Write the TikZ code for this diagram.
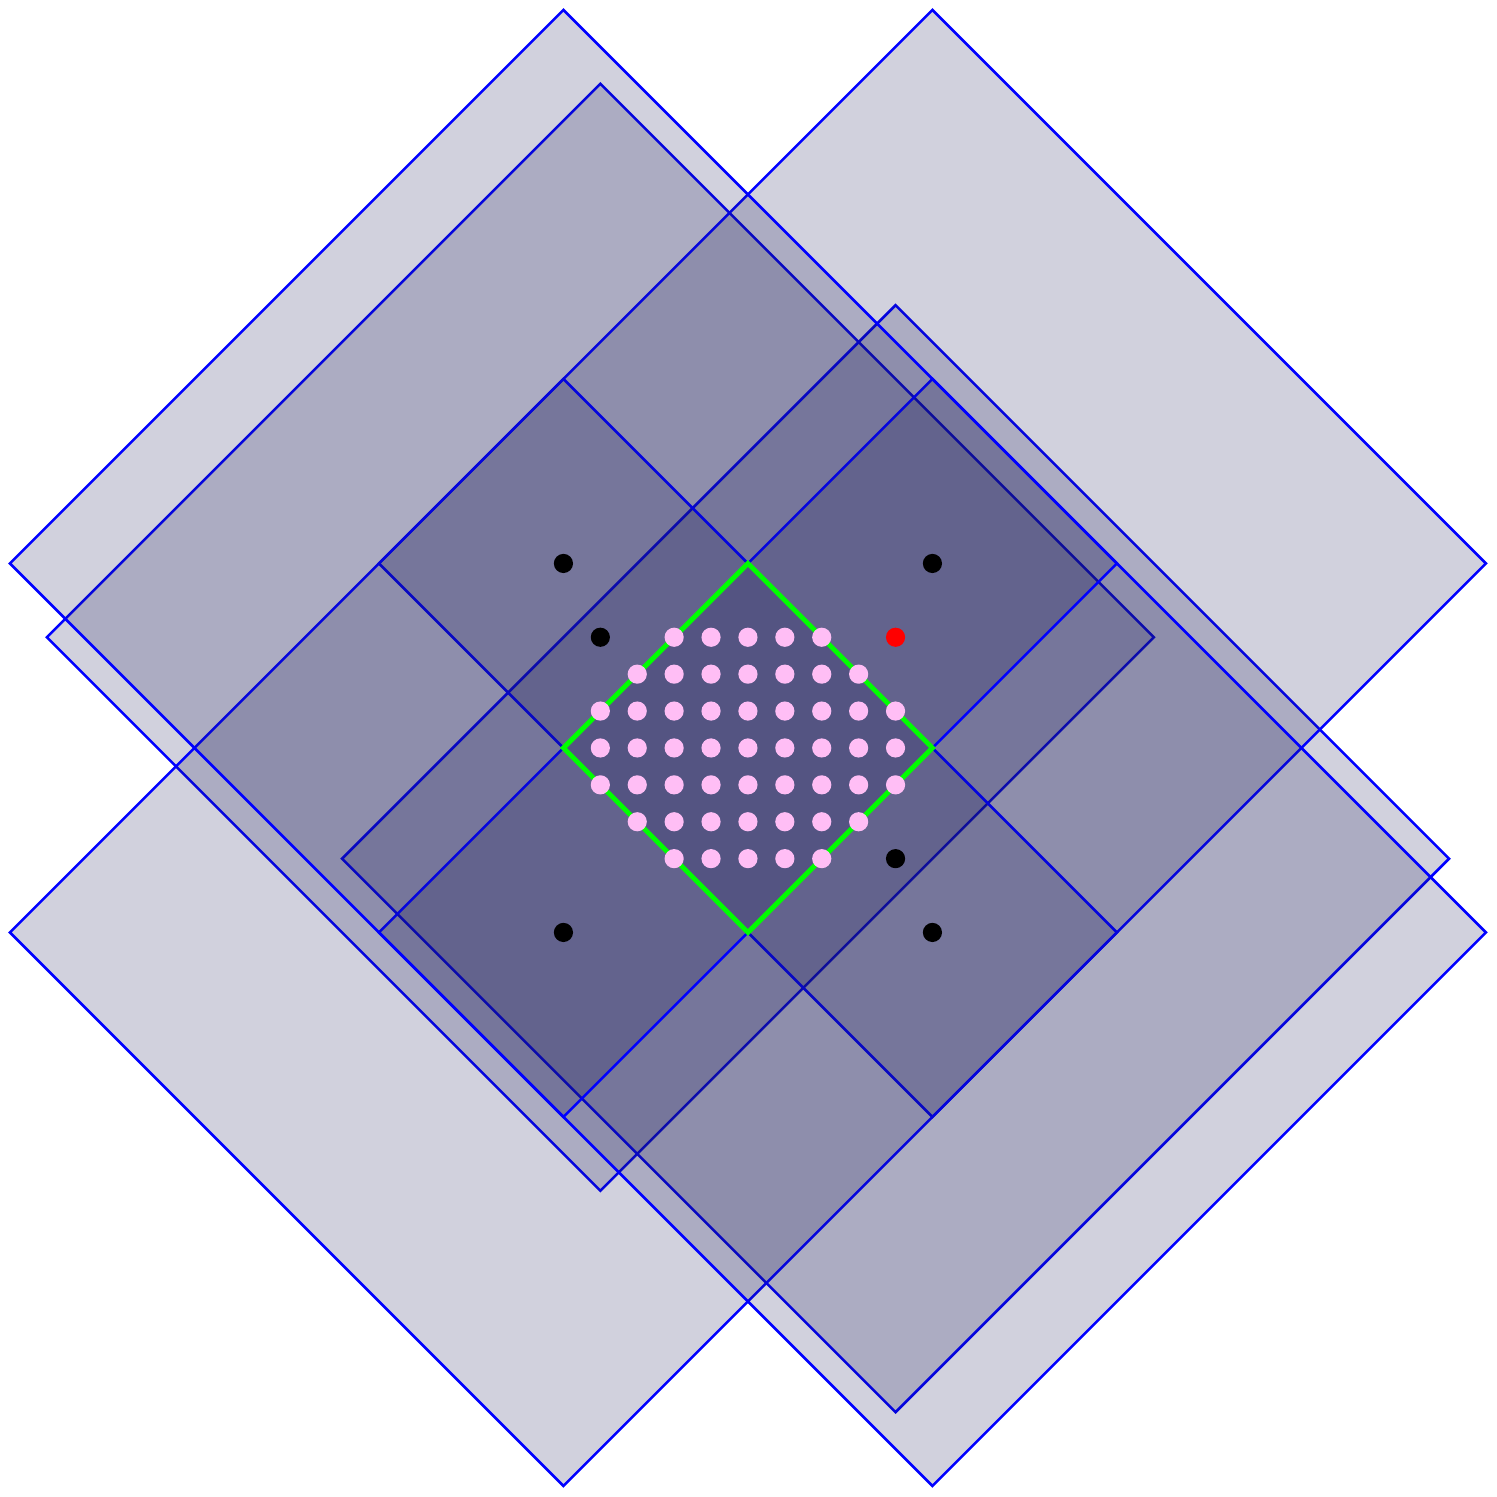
\documentclass[tikz,border=0pt]{standalone}
\definecolor{fillc}{RGB}{24,24,86}
\definecolor{pinkc}{RGB}{255,190,245}
\tikzset{
  dia/.style={draw=blue, line width=2.0pt, fill=fillc, fill opacity=0.2, line join=miter},
  gdia/.style={draw=green, line width=3.8pt, line join=miter},
  bdot/.style={circle, fill=black, inner sep=0pt, minimum size=0.52cm},
  rdot/.style={circle, fill=red, inner sep=0pt, minimum size=0.52cm},
  pdot/.style={circle, fill=pinkc, inner sep=0pt, minimum size=0.52cm}
}
\newcommand\mydiam[2]{\path[dia] (#1,#2) ++(15,0) -- ++(-15,15) -- ++(-15,-15) -- ++(15,-15) -- cycle;}
\begin{document}
\begin{tikzpicture}
\useasboundingbox (-20.27,-20.30) rectangle (20.30,20.27);
% the six diamonds of radius 15
\mydiam{-4}{3}
\mydiam{4}{-3}
\mydiam{5}{5}
\mydiam{-5}{-5}
\mydiam{5}{-5}
\mydiam{-5}{5}
% green diamond
\coordinate (gt) at (0,5);
\coordinate (gr) at (5,0);
\coordinate (gb) at (0,-5);
\coordinate (gl) at (-5,0);
\draw[gdia] (gt) -- (gr) -- (gb) -- (gl) -- cycle;
% pink lattice points
\foreach \y/\a in {3/2, 2/3, 1/4, 0/4, -1/4, -2/3, -3/2}{
  \foreach \x in {-\a,...,\a}{
    \node[pdot] (d\x\y) at (\x,\y) {};
  }
}
% black points
\node[bdot] (pA) at (-5,5) {};
\node[bdot] (pB) at (5,5) {};
\node[bdot] (pC) at (-5,-5) {};
\node[bdot] (pD) at (5,-5) {};
\node[bdot] (pE) at (-4,3) {};
\node[bdot] (pF) at (4,-3) {};
% red point
\node[rdot] (q) at (4,3) {};
\end{tikzpicture}
\end{document}
